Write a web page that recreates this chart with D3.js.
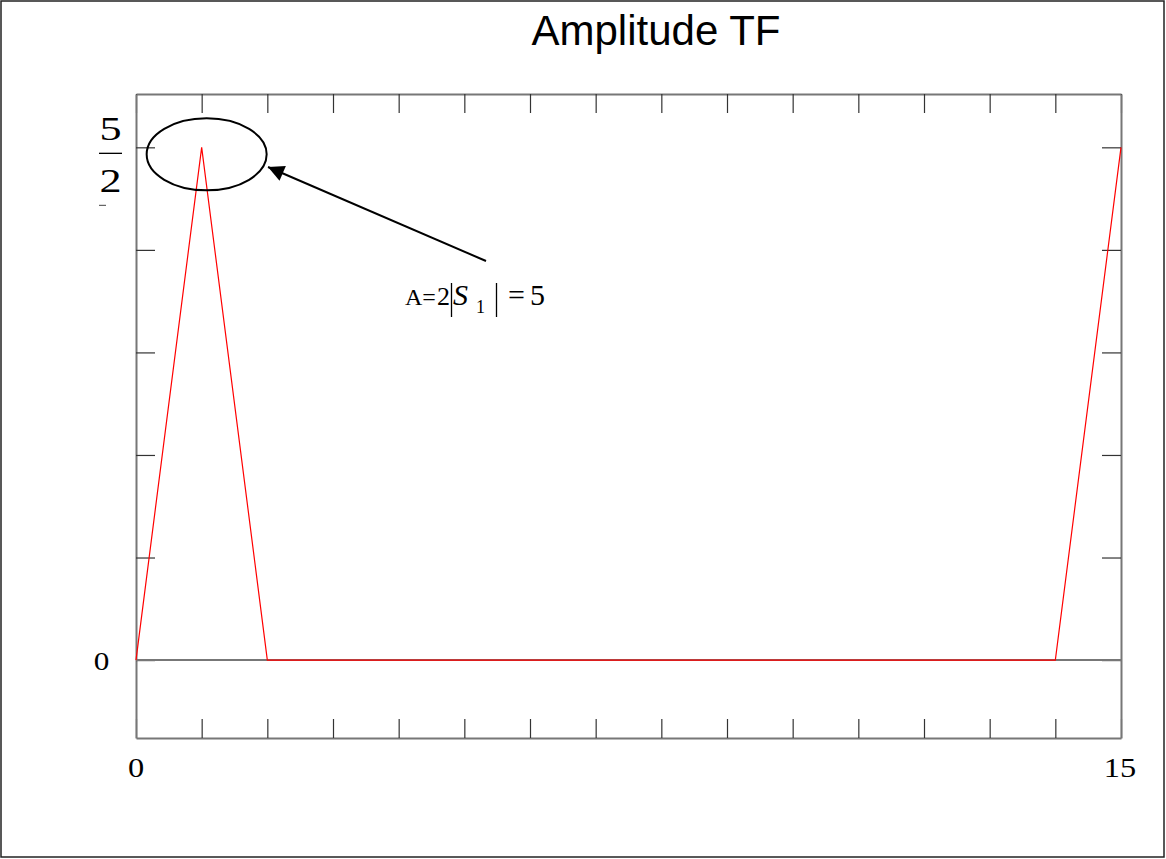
<!DOCTYPE html>
<html>
<head>
<meta charset="utf-8">
<script src="https://cdn.jsdelivr.net/npm/d3@7"></script>
<style>
  html, body { margin: 0; padding: 0; background: #fff; }
  svg { display: block; }
</style>
</head>
<body>
<script>
// ---- data ----
const xValues = [0, 1, 2, 3, 4, 5, 6, 7, 8, 9, 10, 11, 12, 13, 14, 15];
const amplitude = [0, 2.5, 0, 0, 0, 0, 0, 0, 0, 0, 0, 0, 0, 0, 0, 2.5];
const xTicks = [0, 1, 2, 3, 4, 5, 6, 7, 8, 9, 10, 11, 12, 13, 14, 15];
const yTicks = [0, 0.5, 1, 1.5, 2, 2.5];
const xTickLabels = [{v: 0, t: "0"}, {v: 15, t: "15"}];
const yDomain = [-0.38, 2.76];
const xDomain = [0, 15];
const chartTitle = "Amplitude TF";

const W = 1166, H = 859;
const svg = d3.select("body").append("svg").attr("width", W).attr("height", H);

// outer border
svg.append("rect").attr("x", 1).attr("y", 1).attr("width", 1163).attr("height", 856)
  .attr("fill", "none").attr("stroke", "#222").attr("stroke-width", 1.5);

const pL = 136, pR = 1121, pT = 94, pB = 738;
const x = d3.scaleLinear().domain(xDomain).range([pL, pR]);
const y = d3.scaleLinear().domain(yDomain).range([pB, pT]);

// title
svg.append("text").attr("x", 656).attr("y", 45).attr("text-anchor", "middle")
  .style("font-family", "'Liberation Sans', Arial, sans-serif").style("font-size", "42px")
  .attr("fill", "#000").text(chartTitle);

const tickLen = 19;
const axisColor = "#777";
const gTop = svg.append("g").attr("transform", `translate(0,${pT})`)
  .call(d3.axisBottom(x).tickValues(xTicks).tickSize(tickLen).tickSizeOuter(0).tickFormat(""));
const gBot = svg.append("g").attr("transform", `translate(0,${pB})`)
  .call(d3.axisTop(x).tickValues(xTicks).tickSize(tickLen).tickSizeOuter(0).tickFormat(""));
const gLeft = svg.append("g").attr("transform", `translate(${pL},0)`)
  .call(d3.axisRight(y).tickValues(yTicks).tickSize(tickLen).tickSizeOuter(0).tickFormat(""));
const gRight = svg.append("g").attr("transform", `translate(${pR},0)`)
  .call(d3.axisLeft(y).tickValues(yTicks).tickSize(tickLen).tickSizeOuter(0).tickFormat(""));
[gTop, gBot, gLeft, gRight].forEach(g => {
  g.select(".domain").attr("stroke", axisColor).attr("stroke-width", 2);
  g.selectAll(".tick line").attr("stroke", "#333").attr("stroke-width", 1.2);
});

// zero line
svg.append("line").attr("x1", x(0)).attr("x2", x(15)).attr("y1", y(0)).attr("y2", y(0))
  .attr("stroke", axisColor).attr("stroke-width", 2);

// data line
const line = d3.line().x((d, i) => x(xValues[i])).y(d => y(d));
svg.append("path").datum(amplitude).attr("d", line)
  .attr("fill", "none").attr("stroke", "#ff0000").attr("stroke-width", 1.2);

// serif labels (slightly widened, like the reference's typeface)
const serif = "'Liberation Serif', 'Times New Roman', serif";
function serifText(cx, base, size, str, sx) {
  return svg.append("text").attr("transform", `translate(${cx},${base}) scale(${sx},1)`)
    .attr("text-anchor", "middle").style("font-family", serif).style("font-size", size + "px")
    .attr("fill", "#000").text(str);
}
xTickLabels.forEach(d => serifText(x(d.v) + (d.v === 15 ? -1 : 0), 777, 27, d.t, 1.2));
serifText(101.5, y(0) + 10, 26, "0", 1.2);

// 5/2 fraction label
const fy = y(2.5);
serifText(110.5, fy - 7, 34, "5", 1.3);
svg.append("line").attr("x1", 99).attr("x2", 122).attr("y1", fy + 6).attr("y2", fy + 6)
  .attr("stroke", "#000").attr("stroke-width", 1.3);
serifText(110.5, fy + 45, 34, "2", 1.3);
svg.append("line").attr("x1", 99).attr("x2", 106).attr("y1", fy + 58).attr("y2", fy + 58)
  .attr("stroke", "#444").attr("stroke-width", 1);

// ellipse around the peak
svg.append("ellipse").attr("cx", x(1) + 5).attr("cy", y(2.5) + 7).attr("rx", 60).attr("ry", 36)
  .attr("fill", "none").attr("stroke", "#000").attr("stroke-width", 2);

// arrow
const defs = svg.append("defs");
defs.append("marker").attr("id", "ah").attr("viewBox", "0 0 10 10").attr("refX", 10).attr("refY", 5)
  .attr("markerWidth", 20).attr("markerHeight", 16).attr("markerUnits", "userSpaceOnUse")
  .attr("orient", "auto")
  .append("path").attr("d", "M0,0 L10,5 L0,10 Z").attr("fill", "#000");
svg.append("line").attr("x1", 486).attr("y1", 261).attr("x2", 268).attr("y2", 167)
  .attr("stroke", "#000").attr("stroke-width", 2).attr("marker-end", "url(#ah)");

// annotation A = 2|S1| = 5
const ann = svg.append("g").style("font-family", serif).style("font-size", "24px").attr("fill", "#000");
ann.append("text").attr("x", 405).attr("y", 305).text("A=");
ann.append("text").attr("x", 437).attr("y", 305).style("font-size", "26px").text("2");
ann.append("line").attr("x1", 451.5).attr("x2", 451.5).attr("y1", 283).attr("y2", 317).attr("stroke", "#000").attr("stroke-width", 1.3);
ann.append("text").attr("x", 453).attr("y", 305).style("font-style", "italic").style("font-size", "30px").text("S");
ann.append("text").attr("x", 476).attr("y", 313).style("font-size", "18px").text("1");
ann.append("line").attr("x1", 496.5).attr("x2", 496.5).attr("y1", 283).attr("y2", 317).attr("stroke", "#000").attr("stroke-width", 1.3);
ann.append("text").attr("x", 508).attr("y", 305).style("font-size", "30px").text("=");
ann.append("text").attr("x", 530).attr("y", 305).style("font-size", "30px").text("5");
</script>
</body>
</html>
